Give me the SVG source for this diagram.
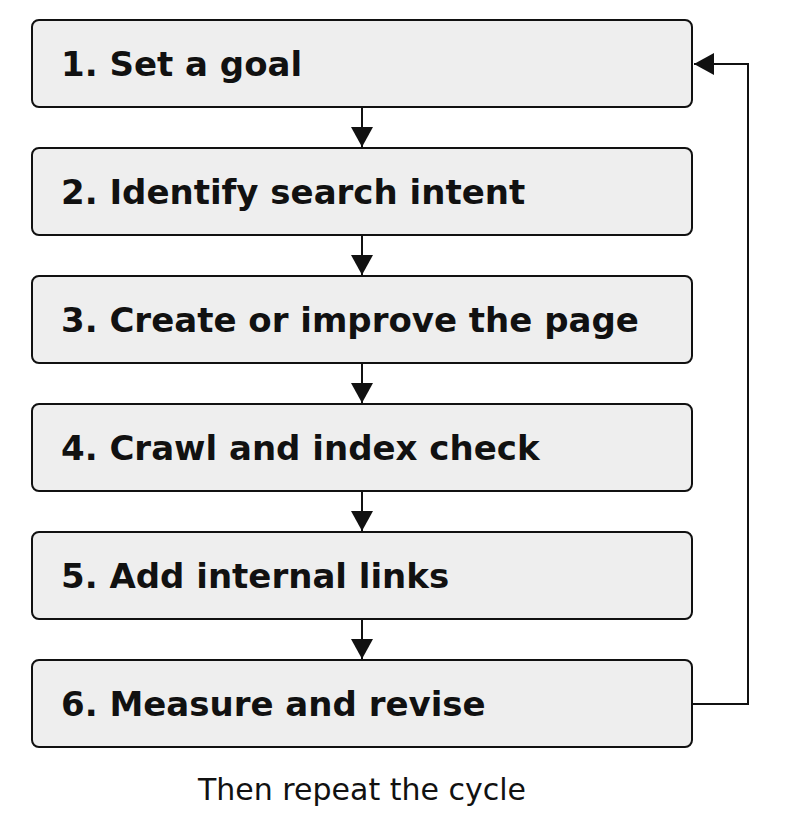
<svg xmlns="http://www.w3.org/2000/svg" width="800" height="816" viewBox="0 0 800 816">
<style>
.b{fill:#eeeeee;stroke:#111;stroke-width:2}
.t{font-family:"DejaVu Sans",sans-serif;font-weight:bold;font-size:34px;fill:#111}
.c{stroke:#111;stroke-width:2;fill:none}
</style>
<defs><marker id="h" markerWidth="20" markerHeight="22" refX="20" refY="11" orient="auto" markerUnits="userSpaceOnUse"><path d="M0,0L20,11L0,22z" fill="#111"/></marker></defs>
<rect width="800" height="816" fill="#fff"/>
<g id="n1"><rect class="b" x="32" y="20" width="660" height="87" rx="7"/><text class="t" x="61" y="76">1. Set a goal</text></g>
<g id="n2"><rect class="b" x="32" y="148" width="660" height="87" rx="7"/><text class="t" x="61" y="204">2. Identify search intent</text></g>
<g id="n3"><rect class="b" x="32" y="276" width="660" height="87" rx="7"/><text class="t" x="61" y="332">3. Create or improve the page</text></g>
<g id="n4"><rect class="b" x="32" y="404" width="660" height="87" rx="7"/><text class="t" x="61" y="460">4. Crawl and index check</text></g>
<g id="n5"><rect class="b" x="32" y="532" width="660" height="87" rx="7"/><text class="t" x="61" y="588">5. Add internal links</text></g>
<g id="n6"><rect class="b" x="32" y="660" width="660" height="87" rx="7"/><text class="t" x="61" y="716">6. Measure and revise</text></g>
<g id="connectors">
<path class="c" d="M362,107V147" marker-end="url(#h)"/>
<path class="c" d="M362,235V275" marker-end="url(#h)"/>
<path class="c" d="M362,363V403" marker-end="url(#h)"/>
<path class="c" d="M362,491V531" marker-end="url(#h)"/>
<path class="c" d="M362,619V659" marker-end="url(#h)"/>
<path class="c" d="M692,704H748V64H694" marker-end="url(#h)"/>
</g>
<text x="362" y="800" text-anchor="middle" font-family="DejaVu Sans,sans-serif" font-size="30" fill="#111">Then repeat the cycle</text>
</svg>
